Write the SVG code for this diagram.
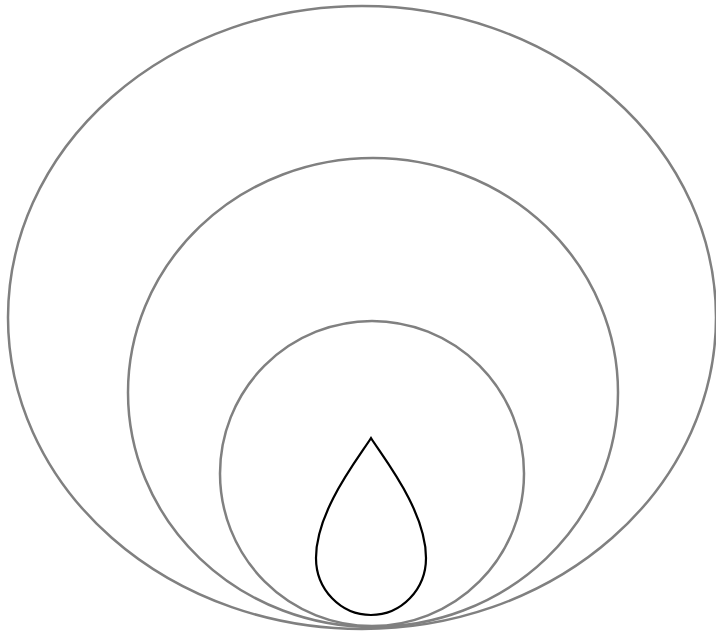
<svg xmlns="http://www.w3.org/2000/svg" width="716" height="633" viewBox="0 0 716 633">
<style>
.ring{fill:none;stroke:#808080;stroke-width:2.5}
.drop{fill:#ffffff;stroke:#000000;stroke-width:2.2}
</style>
<rect width="716" height="633" fill="#ffffff"/>
<g id="outer"><ellipse class="ring" cx="362" cy="317.5" rx="354" ry="311.5"/></g>
<g id="middle"><ellipse class="ring" cx="373" cy="392.5" rx="245" ry="234.5"/></g>
<g id="inner"><ellipse class="ring" cx="372" cy="473.5" rx="152" ry="152.5"/></g>
<g id="drop"><path class="drop" d="M371,438 C360,456 316,510 316,558 A55,57 0 0 0 426,558 C426,510 382,456 371,438 Z"/></g>
<g id="connectors"></g>
</svg>
